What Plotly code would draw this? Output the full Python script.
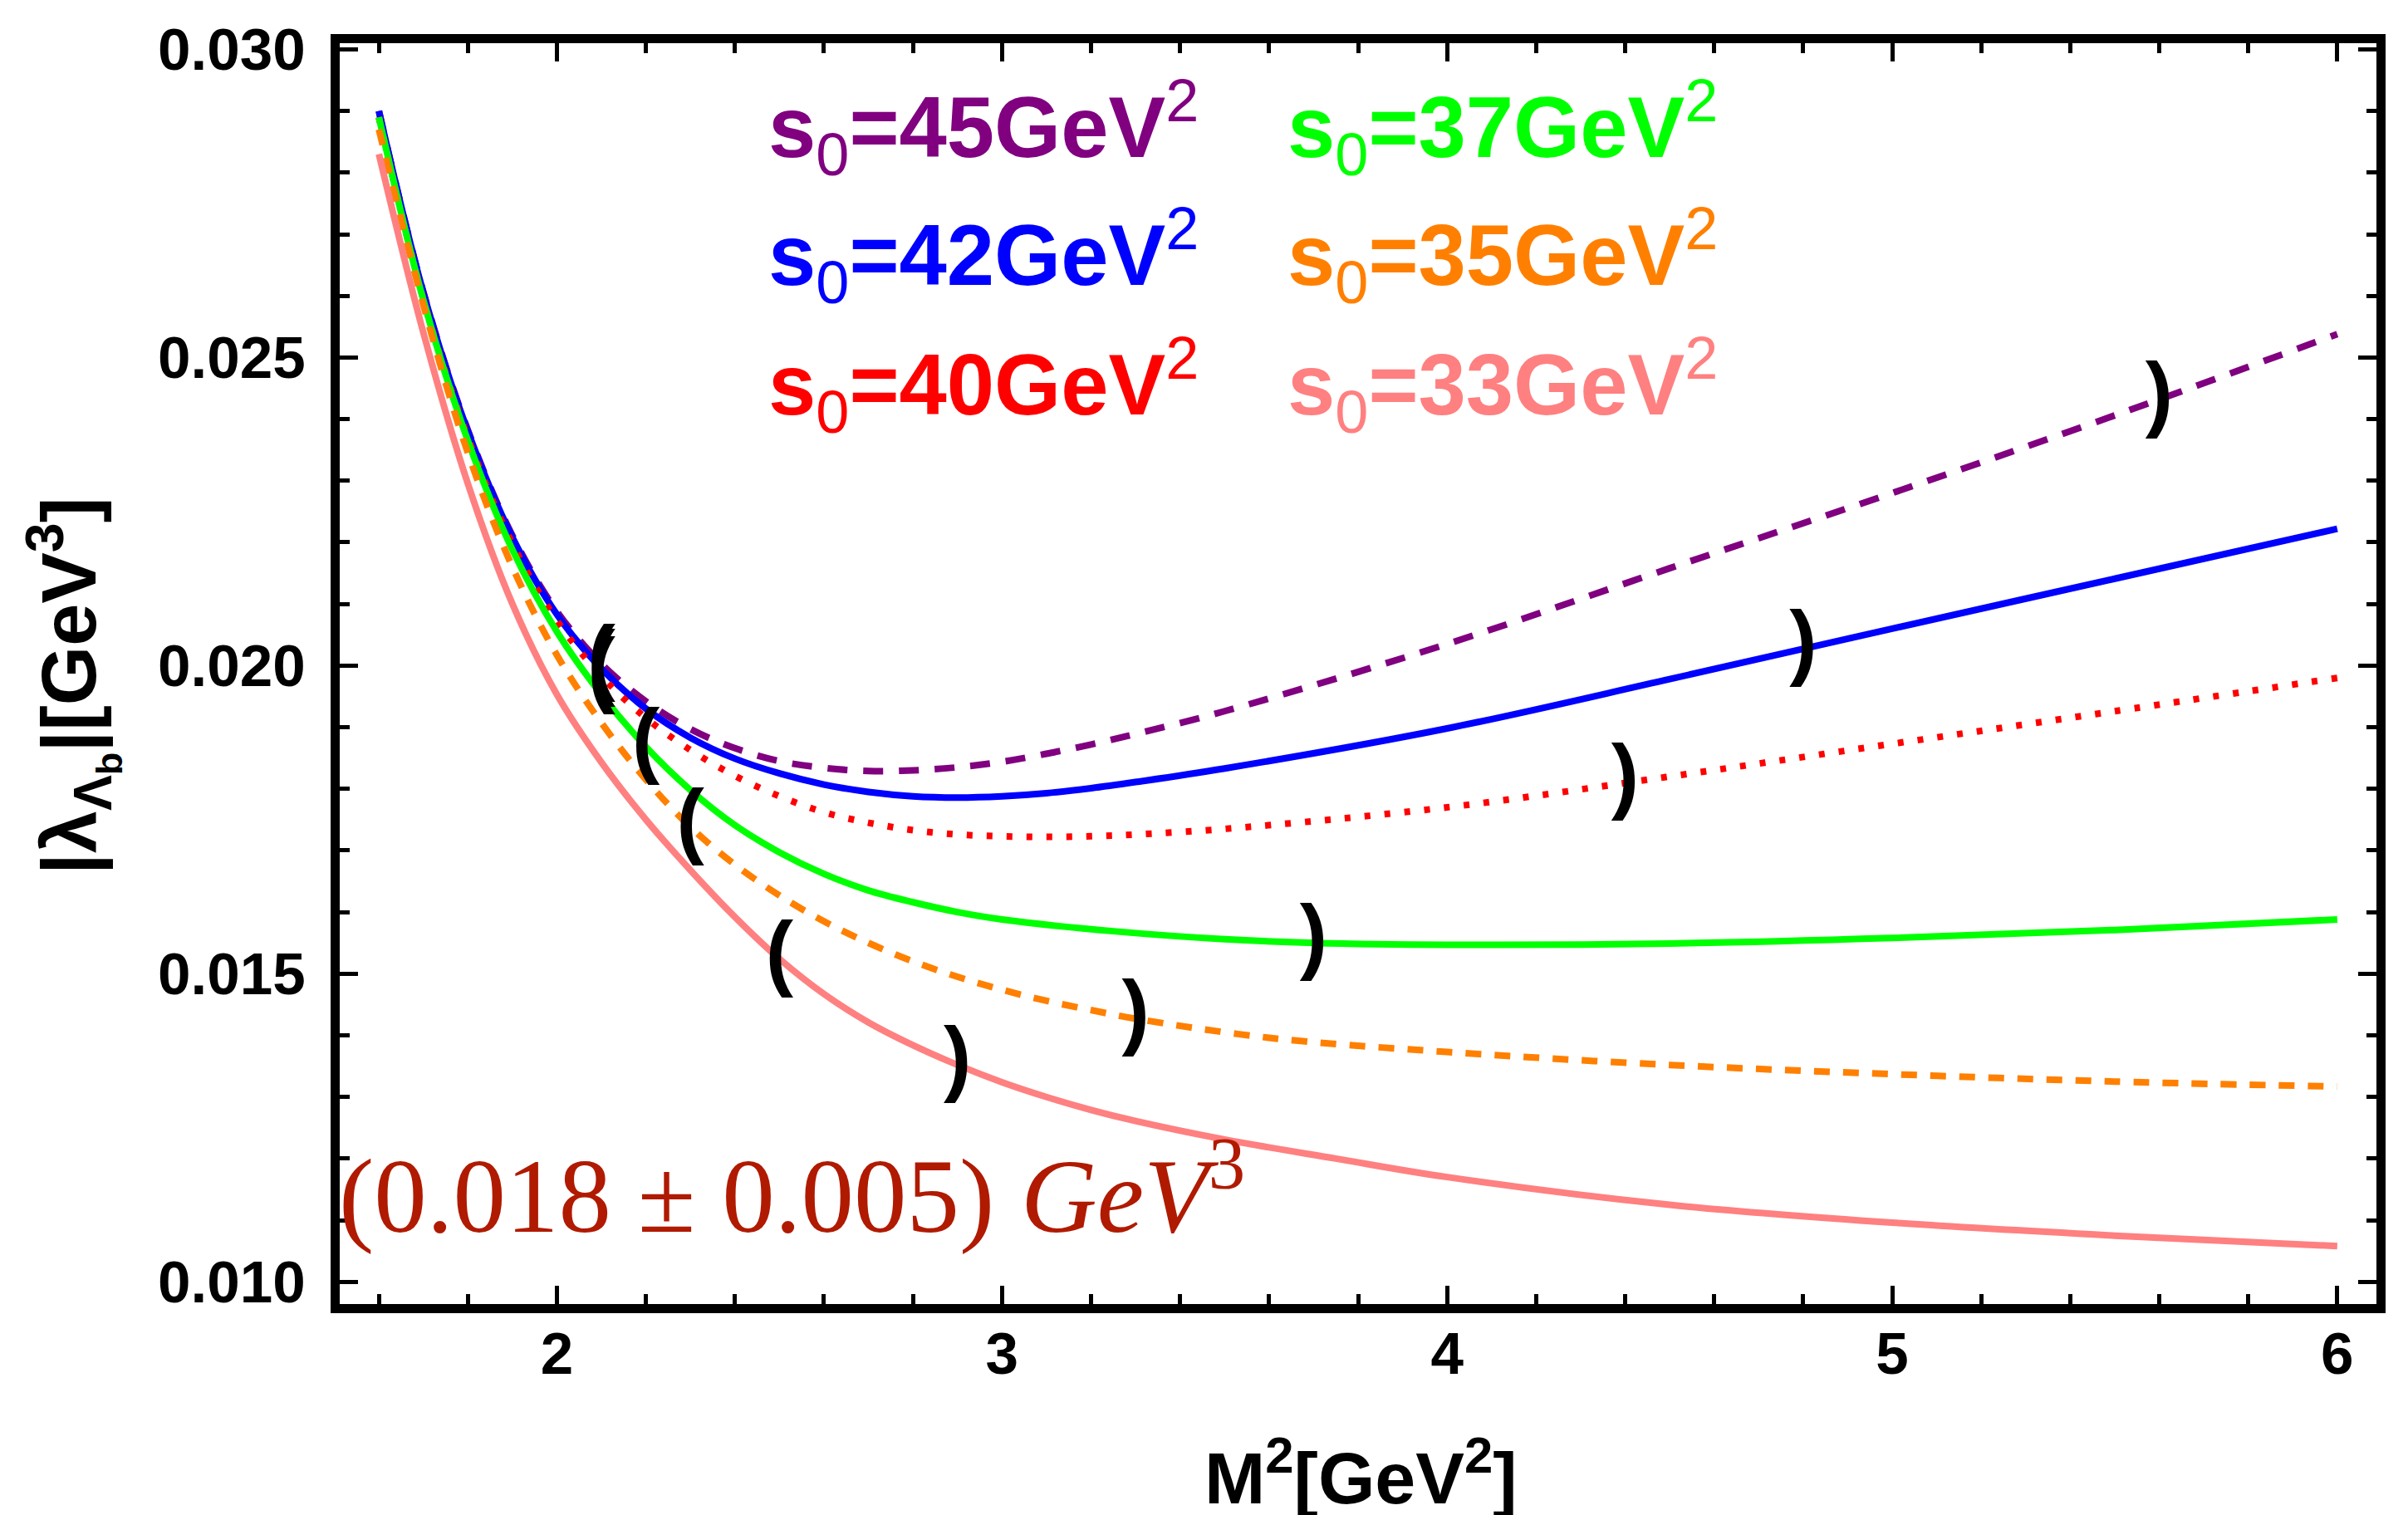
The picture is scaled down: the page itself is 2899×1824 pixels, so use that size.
import plotly.graph_objects as go

# ---------------- data ----------------
M2_45 = [1.6, 1.7, 1.8, 1.9, 2.0, 2.1, 2.2, 2.3, 2.4, 2.5, 2.6, 2.7, 2.8, 2.9, 3.0, 3.1, 3.2, 3.3, 3.5, 4.0, 4.5, 5.0, 5.5, 6.0]
lam_45 = [0.0290, 0.02606, 0.02382, 0.02211, 0.02088, 0.02003, 0.01942, 0.01897, 0.01866, 0.01845, 0.01834, 0.01829,
          0.01830, 0.01835, 0.01844, 0.01857, 0.01872, 0.01889, 0.01926, 0.02035, 0.02158, 0.0228, 0.02406, 0.02538]

M2_42 = [1.6, 1.7, 1.8, 1.9, 2.0, 2.1, 2.2, 2.3, 2.4, 2.5, 2.6, 2.7, 2.8, 2.9, 3.0, 3.1, 3.2, 3.3, 3.5, 4.0, 4.5, 5.0, 5.5, 6.0]
lam_42 = [0.0290, 0.02605, 0.0238, 0.02208, 0.02083, 0.01995, 0.0193, 0.01883, 0.01849, 0.01825, 0.01807, 0.01795,
          0.01788, 0.01786, 0.01788, 0.01793, 0.01801, 0.01811, 0.01833, 0.01898, 0.01978, 0.0206, 0.02141, 0.02222]

M2_40 = [1.6, 1.7, 1.8, 1.9, 2.0, 2.1, 2.2, 2.3, 2.4, 2.5, 2.6, 2.7, 2.8, 2.9, 3.0, 3.1, 3.2, 3.3, 3.5, 4.0, 4.5, 5.0, 5.5, 6.0]
lam_40 = [0.0289, 0.02595, 0.0237, 0.02198, 0.02073, 0.01983, 0.01915, 0.01863, 0.01821, 0.01788, 0.01762, 0.01745,
          0.01733, 0.01726, 0.01723, 0.01722, 0.01723, 0.01726, 0.01735, 0.0177, 0.0182, 0.01873, 0.01926, 0.0198]

M2_37 = [1.6, 1.7, 1.8, 1.9, 2.0, 2.1, 2.2, 2.3, 2.4, 2.5, 2.6, 2.7, 2.8, 2.9, 3.0, 3.25, 3.5, 3.7, 4.0, 4.5, 5.0, 5.5, 6.0]
lam_37 = [0.0289, 0.02593, 0.02365, 0.02188, 0.02055, 0.01953, 0.01868, 0.01798, 0.01741, 0.01697, 0.01662, 0.01635,
          0.01616, 0.0160, 0.01588, 0.01569, 0.01556, 0.0155, 0.01547, 0.01549, 0.01558, 0.01571, 0.01588]

M2_35 = [1.6, 1.7, 1.8, 1.9, 2.0, 2.1, 2.2, 2.3, 2.4, 2.5, 2.6, 2.7, 2.8, 2.9, 3.0, 3.1, 3.2, 3.3, 3.6, 4.0, 4.5, 5.0, 5.5, 6.0]
lam_35 = [0.0287, 0.02585, 0.02345, 0.0216, 0.02017, 0.01907, 0.01815, 0.01738, 0.01677, 0.01627, 0.01585, 0.0155,
          0.0152, 0.01495, 0.01474, 0.01456, 0.01441, 0.01427, 0.01396, 0.01373, 0.01352, 0.01337, 0.01325, 0.01317]

M2_33 = [1.6, 1.7, 1.8, 1.9, 2.0, 2.1, 2.2, 2.3, 2.4, 2.5, 2.6, 2.7, 2.8, 2.9, 3.0, 3.1, 3.2, 3.3, 3.5, 3.75, 4.0, 4.5, 5.0, 5.5, 6.0]
lam_33 = [0.0283, 0.0254, 0.02295, 0.0210, 0.01953, 0.01843, 0.0175, 0.01668, 0.01592, 0.01524, 0.01467, 0.01421,
          0.01384, 0.01352, 0.01324, 0.0130, 0.01279, 0.01261, 0.01231, 0.0120, 0.0117, 0.01125, 0.01096, 0.01075, 0.01058]

# Borel-window brackets: "(" at the lower edge, ")" at the upper edge
open_x = [2.1, 2.1, 2.1, 2.2, 2.3, 2.5]
open_y = [0.02003, 0.01995, 0.01983, 0.01868, 0.01738, 0.01524]
close_x = [5.6, 4.8, 4.4, 3.7, 3.3, 2.9]
close_y = [0.02431, 0.02027, 0.0181, 0.0155, 0.01427, 0.01352]

s0_labels = ["45", "42", "40", "37", "35", "33"]
colors = ["#800080", "#0000FF", "#FF0000", "#00FF00", "#FF8000", "#FF8080"]
dashes = ["24px,19px", "solid", "7px,17px", "solid", "19px,16px", "solid"]

xs = [M2_45, M2_42, M2_40, M2_37, M2_35, M2_33]
ys = [lam_45, lam_42, lam_40, lam_37, lam_35, lam_33]

result_text = "(0.018 ± 0.005) <i>GeV</i><sup>3</sup>"

# ---------------- figure ----------------
W, H = 2899, 1824
L, R, T, B = 401, 2853, 44, 1562
pw, ph = R - L, B - T


def px(x):
    return (x - L) / pw


def py(y):
    return (B - y) / ph


fig = go.Figure()
for x, y, c, d in zip(xs, ys, colors, dashes):
    fig.add_trace(go.Scatter(x=x, y=y, mode="lines",
                             line=dict(color=c, width=8, dash=d, shape="spline", smoothing=1.0),
                             showlegend=False, hoverinfo="skip"))

br_font = dict(family="Liberation Sans", size=100, color="black", weight="bold")
fig.add_trace(go.Scatter(x=open_x, y=open_y, mode="text", text=["("] * len(open_x),
                         textposition="middle center", textfont=br_font,
                         showlegend=False, hoverinfo="skip", cliponaxis=False))
fig.add_trace(go.Scatter(x=close_x, y=close_y, mode="text", text=[")"] * len(close_x),
                         textposition="middle center", textfont=br_font,
                         showlegend=False, hoverinfo="skip", cliponaxis=False))

tickfont = dict(family="Liberation Sans", size=71, color="black", weight="bold")
axis_common = dict(showgrid=False, zeroline=False, showline=True, linecolor="black", linewidth=11,
                   mirror="allticks", ticks="inside", ticklen=22, tickwidth=5, tickcolor="black",
                   tickfont=tickfont)

fig.update_xaxes(range=[1.512, 6.088], tick0=0, dtick=1, ticklabelstandoff=-12,
                 minor=dict(ticks="inside", dtick=0.2, tick0=0, ticklen=12, tickwidth=5, tickcolor="black"),
                 **axis_common)
fig.update_yaxes(range=[0.00964, 0.0301], tick0=0, dtick=0.005, tickformat=".3f", ticklabelstandoff=16,
                 minor=dict(ticks="inside", dtick=0.001, tick0=0, ticklen=12, tickwidth=5, tickcolor="black"),
                 **axis_common)

ann = []
# legend-like labels
leg_x = [915, 915, 915, 1540, 1540, 1540]
leg_y = [146, 300, 455, 146, 300, 455]
thin = "<span style='font-weight:normal'>%s</span>"
for lab, c, lx, ly in zip(s0_labels, colors, leg_x, leg_y):
    ann.append(dict(xref="paper", yref="paper", x=px(lx), y=py(ly), xanchor="left", yanchor="middle",
                    text="s<sub>" + thin % "0" + "</sub>=" + lab + "GeV<sup>" + thin % "2" + "</sup>",
                    showarrow=False,
                    font=dict(family="Liberation Sans", size=103, color=c, weight="bold")))
# result annotation
ann.append(dict(xref="paper", yref="paper", x=px(398), y=py(1423), xanchor="left", yanchor="middle",
                text=result_text, showarrow=False,
                font=dict(family="Liberation Serif", size=127, color="#B01A00")))
# axis titles
ann.append(dict(xref="paper", yref="paper", x=px(1630), y=py(1765), xanchor="center", yanchor="middle",
                text="M<sup>2</sup>[GeV<sup>2</sup>]", showarrow=False,
                font=dict(family="Liberation Sans", size=88, color="black", weight="bold")))
ann.append(dict(xref="paper", yref="paper", x=px(80), y=py(818), xanchor="center", yanchor="middle",
                textangle=-90, text="|λ<sub>Λ<sub>b</sub></sub>|[GeV<sup>3</sup>]", showarrow=False,
                font=dict(family="Liberation Sans", size=92, color="black", weight="bold")))

fig.update_layout(width=W, height=H, margin=dict(l=L, r=W - R, t=T, b=H - B, pad=0),
                  paper_bgcolor="white", plot_bgcolor="white", annotations=ann, showlegend=False)

fig.write_html("out.html")
